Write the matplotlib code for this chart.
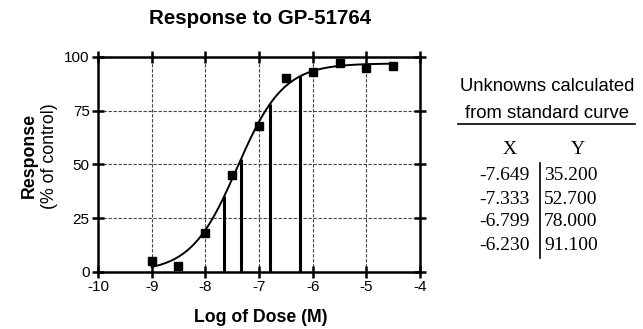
import numpy as np
import matplotlib.pyplot as plt

# standard curve data
log_dose = [-9.0, -8.5, -8.0, -7.5, -7.0, -6.5, -6.0, -5.5, -5.0, -4.5]
response = [5, 3, 18, 45, 68, 90, 93, 97, 95, 96]

# sigmoidal dose-response fit
bottom, top = 0.0, 97.0
log_ec50, hill = -7.407, 1.01

# unknowns
unk_x = [-7.649, -7.333, -6.799, -6.230]
unk_y = [35.2, 52.7, 78.0, 91.1]

sans = 'Liberation Sans'
serif = 'Liberation Serif'
plt.rcParams['font.family'] = sans
plt.rcParams['axes.unicode_minus'] = False

fig = plt.figure(figsize=(6.43, 3.29), dpi=100)
ax = fig.add_axes([0.1524, 0.1733, 0.5008, 0.6535])

xf = np.linspace(-9, -4.5, 300)
yf = bottom + (top - bottom) / (1 + 10 ** ((log_ec50 - xf) * hill))
ax.plot(xf, yf, color='black', lw=1.4, zorder=3)
ax.plot(log_dose, response, 's', color='black', ms=5.7, zorder=4)
ax.vlines(unk_x, 0, unk_y, color='black', lw=2.2, zorder=3)

ax.set_xlim(-10, -4)
ax.set_ylim(0, 100)
ax.set_xticks(range(-10, -3))
ax.set_yticks([0, 25, 50, 75, 100])
ax.grid(True, ls=(0, (3, 1.5)), color='#444444', lw=0.8)
for s in ax.spines.values():
    s.set_linewidth(1.8)
ax.tick_params(direction='inout', length=8, width=1.8, labelsize=11,
               top=True, right=True, pad=2)

fig.text(0.405, 1 - 18 / 329, 'Response to GP-51764', fontsize=14.8,
         fontweight='bold', ha='center', va='center')
fig.text(0.405, 1 - 318 / 329, 'Log of Dose (M)', fontsize=12.7,
         fontweight='bold', ha='center', va='center')
fig.text(29 / 643, 1 - 155 / 329, 'Response', fontsize=12.8, fontweight='bold',
         rotation=90, ha='center', va='center')
fig.text(49 / 643, 1 - 156 / 329, '(% of control)', fontsize=12.8,
         rotation=90, ha='center', va='center')

# table of unknowns
fig.text(547 / 643, 1 - 87 / 329, 'Unknowns calculated', fontsize=13.3,
         ha='center', va='center')
fig.text(547 / 643, 1 - 114 / 329, 'from standard curve', fontsize=13.3,
         ha='center', va='center')
fig.add_artist(plt.Line2D([458 / 643, 635 / 643], [1 - 124 / 329] * 2,
                          color='black', lw=1.2))
fig.text(510 / 643, 1 - 149 / 329, 'X', fontsize=14, family=serif,
         ha='center', va='center')
fig.text(578 / 643, 1 - 149 / 329, 'Y', fontsize=14, family=serif,
         ha='center', va='center')
row_y = [176, 199, 222, 245]
for xv, yv, ry in zip(unk_x, unk_y, row_y):
    fig.text(530 / 643, 1 - ry / 329, f'{xv:.3f}', fontsize=14, family=serif,
             ha='right', va='center')
    fig.text(544 / 643, 1 - ry / 329, f'{yv:.3f}', fontsize=14, family=serif,
             ha='left', va='center')
fig.add_artist(plt.Line2D([540 / 643] * 2, [1 - 163 / 329, 1 - 258 / 329],
                          color='black', lw=1.2))

fig.savefig('out.png', dpi=100)
